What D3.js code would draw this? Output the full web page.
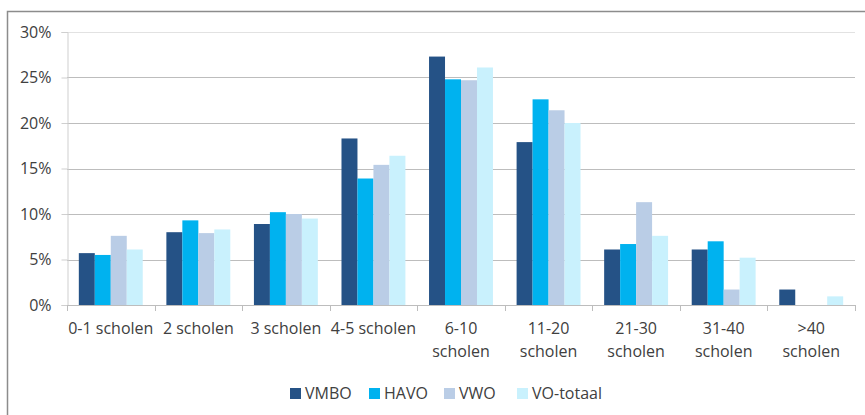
<!DOCTYPE html>
<html>
<head>
<meta charset="utf-8">
<script src="https://cdn.jsdelivr.net/npm/d3@7"></script>
<style>
  body { margin: 0; background: #fff; }
  text { font-family: "Open Sans", "Noto Sans", sans-serif; fill: #404040; }
</style>
</head>
<body>
<div id="chart"></div>
<script>
var width = 865;
var height = 415;

var categories = [["0-1 scholen"], ["2 scholen"], ["3 scholen"], ["4-5 scholen"],
    ["6-10", "scholen"], ["11-20", "scholen"], ["21-30", "scholen"], ["31-40", "scholen"], [">40", "scholen"]];
var series = ["VMBO", "HAVO", "VWO", "VO-totaal"];
var colors = ["#255286", "#00b2ef", "#bacde6", "#c9f1fd"];

// percentages per category, one array per series
var vmbo = [5.7, 8.0, 8.9, 18.3, 27.3, 17.9, 6.1, 6.1, 1.7];
var havo = [5.5, 9.3, 10.2, 13.9, 24.8, 22.6, 6.7, 7.0, 0];
var vwo = [7.6, 7.9, 10.0, 15.4, 24.7, 21.4, 11.3, 1.7, 0];
var vototaal = [6.1, 8.3, 9.5, 16.4, 26.1, 20.0, 7.6, 5.2, 0.95];
var values = [vmbo, havo, vwo, vototaal];

var yTicks = [0, 5, 10, 15, 20, 25, 30];

var svg = d3.select("#chart").append("svg")
    .attr("width", width)
    .attr("height", height);

// outer chart border
svg.append("rect")
    .attr("x", 7.5).attr("y", 11.5)
    .attr("width", 870).attr("height", 420)
    .attr("fill", "none")
    .attr("stroke", "#8c8c8c")
    .attr("stroke-width", 1.5);

var plotLeft = 67, plotRight = 855, plotTop = 32, plotBottom = 305;

var x = d3.scaleBand()
    .domain(d3.range(categories.length))
    .range([plotLeft, plotRight])
    .paddingInner(0.27)
    .paddingOuter(0.135);

var x1 = d3.scaleBand()
    .domain(d3.range(series.length))
    .range([0, x.bandwidth()]);

var y = d3.scaleLinear()
    .domain([0, 30])
    .range([plotBottom, plotTop]);

// gridlines
svg.append("g")
    .selectAll("line")
    .data(yTicks.slice(1))
    .enter().append("line")
    .attr("x1", plotLeft).attr("x2", plotRight)
    .attr("y1", function (d) { return Math.round(y(d)) + 0.5; })
    .attr("y2", function (d) { return Math.round(y(d)) + 0.5; })
    .attr("stroke", function (d) { return d === 30 ? "#e2e2e2" : "#bdbdbd"; })
    .attr("stroke-width", 1.2);

// y axis
var yAxis = d3.axisLeft(y)
    .tickValues(yTicks)
    .tickSize(6)
    .tickPadding(10)
    .tickFormat(function (d) { return d + "%"; });

var gy = svg.append("g")
    .attr("transform", "translate(" + (plotLeft + 0.5) + ",0)")
    .call(yAxis);
gy.select(".domain").attr("stroke", "#cfcfcf");
gy.selectAll(".tick line").attr("stroke", "#cfcfcf");
gy.selectAll(".tick text")
    .style("font-size", "16px")
    .style("font-family", "'Open Sans', sans-serif")
    .attr("fill", "#404040");

// bars
var groups = svg.append("g")
    .selectAll("g")
    .data(categories)
    .enter().append("g")
    .attr("transform", function (d, i) { return "translate(" + x(i) + ",0)"; });

groups.selectAll("rect")
    .data(function (d, i) { return values.map(function (s, j) { return { s: j, v: s[i] }; }); })
    .enter().append("rect")
    .attr("x", function (d) { return x1(d.s); })
    .attr("width", x1.bandwidth())
    .attr("y", function (d) { return y(d.v); })
    .attr("height", function (d) { return y(0) - y(d.v); })
    .attr("fill", function (d) { return colors[d.s]; });

// x axis line and tick marks at category boundaries
svg.append("line")
    .attr("x1", plotLeft).attr("x2", plotRight)
    .attr("y1", plotBottom + 0.5).attr("y2", plotBottom + 0.5)
    .attr("stroke", "#bdbdbd")
    .attr("stroke-width", 1.2);

var step = x.step();
svg.append("g")
    .selectAll("line")
    .data(d3.range(categories.length + 1))
    .enter().append("line")
    .attr("x1", function (d) { return Math.round(plotLeft + d * step) + 0.5; })
    .attr("x2", function (d) { return Math.round(plotLeft + d * step) + 0.5; })
    .attr("y1", plotBottom).attr("y2", plotBottom + 6)
    .attr("stroke", "#bdbdbd");

// category labels
var labels = svg.append("g")
    .selectAll("text")
    .data(categories)
    .enter().append("text")
    .attr("text-anchor", "middle")
    .style("font-size", "16px")
    .attr("x", function (d, i) { return x(i) + x.bandwidth() / 2; })
    .attr("y", 334);

labels.selectAll("tspan")
    .data(function (d) { return d; })
    .enter().append("tspan")
    .attr("x", function () { return d3.select(this.parentNode).attr("x"); })
    .attr("dy", function (d, i) { return i === 0 ? 0 : 23; })
    .text(function (d) { return d; });

// legend
var legendX = [290, 369, 444, 517];
var legend = svg.append("g")
    .selectAll("g")
    .data(series)
    .enter().append("g")
    .attr("transform", function (d, i) { return "translate(" + legendX[i] + ",388)"; });

legend.append("rect")
    .attr("width", 11).attr("height", 11)
    .attr("fill", function (d, i) { return colors[i]; });

legend.append("text")
    .attr("x", 15).attr("y", 11)
    .style("font-size", "16px")
    .text(function (d) { return d; });
</script>
</body>
</html>
